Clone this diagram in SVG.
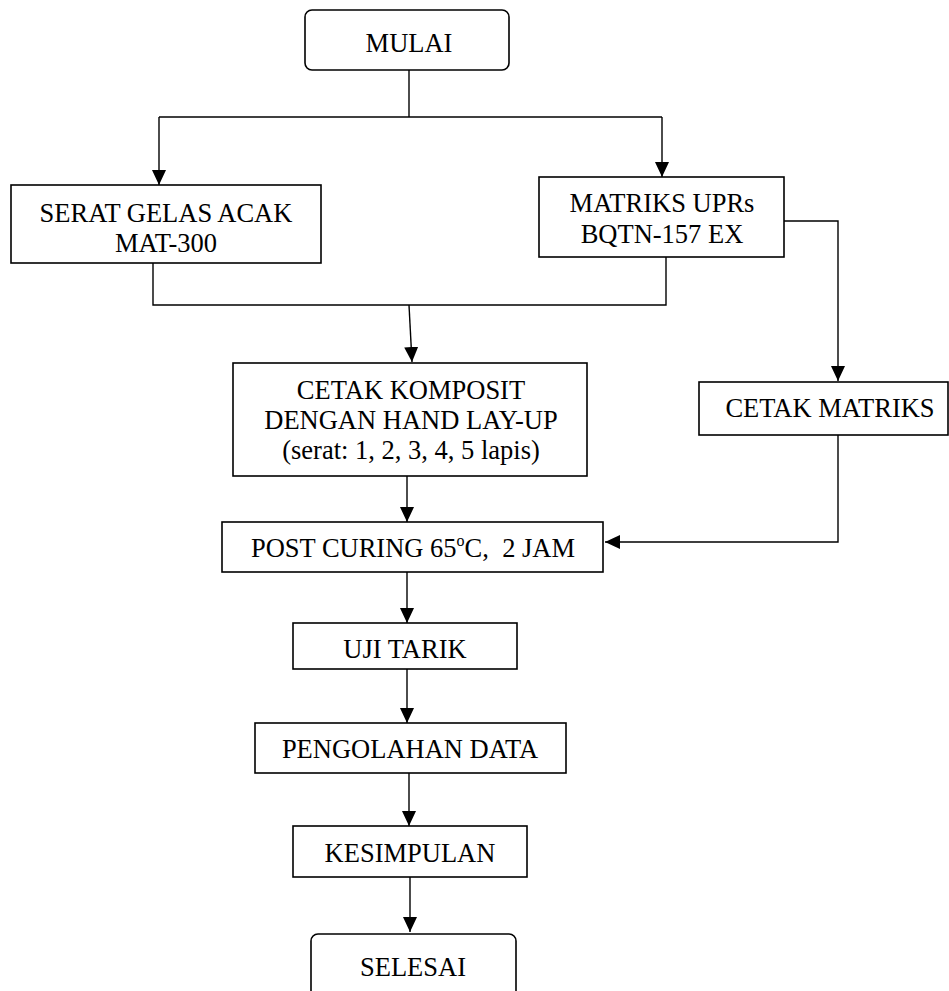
<svg xmlns="http://www.w3.org/2000/svg" width="949" height="991" viewBox="0 0 949 991">
<style>
  .box { fill: #fff; stroke: #000; stroke-width: 1.6; }
  .ln { fill: none; stroke: #000; stroke-width: 1.4; }
  text { font-family: "Liberation Serif", "Times New Roman", serif; font-size: 26.5px; fill: #000; text-anchor: middle; white-space: pre; }
</style>
<defs>
  <marker id="ah" markerWidth="15" markerHeight="14" refX="15" refY="7" orient="auto" markerUnits="userSpaceOnUse">
    <path d="M0,0 L15,7 L0,14 Z" fill="#000"/>
  </marker>
</defs>
<rect width="949" height="991" fill="#fff"/>
<g id="connectors">
  <path class="ln" d="M409,70 V117"/>
  <path class="ln" d="M159,117 H662"/>
  <path class="ln" d="M159,117 V185" marker-end="url(#ah)"/>
  <path class="ln" d="M662,117 V177" marker-end="url(#ah)"/>
  <path class="ln" d="M153,263 V305 H666 V257"/>
  <path class="ln" d="M409,305 L412,362" marker-end="url(#ah)"/>
  <path class="ln" d="M784,221 H838 V381" marker-end="url(#ah)"/>
  <path class="ln" d="M838,435 V542 H605" marker-end="url(#ah)"/>
  <path class="ln" d="M407,476 V522" marker-end="url(#ah)"/>
  <path class="ln" d="M407,572 V623" marker-end="url(#ah)"/>
  <path class="ln" d="M407,669 V723" marker-end="url(#ah)"/>
  <path class="ln" d="M409,773 V826" marker-end="url(#ah)"/>
  <path class="ln" d="M410,877 V932" marker-end="url(#ah)"/>
</g>
<g id="mulai">
  <rect class="box" x="305" y="10" width="204" height="60" rx="7"/>
  <text x="409" y="52">MULAI</text>
</g>
<g id="serat">
  <rect class="box" x="11" y="185" width="310" height="78"/>
  <text x="166" y="222">SERAT GELAS ACAK</text>
  <text x="166" y="252">MAT-300</text>
</g>
<g id="matriks">
  <rect class="box" x="539" y="177" width="245" height="80"/>
  <text x="662" y="212">MATRIKS UPRs</text>
  <text x="662" y="243">BQTN-157 EX</text>
</g>
<g id="cetak-komposit">
  <rect class="box" x="233" y="363" width="354" height="113"/>
  <text x="411" y="399">CETAK KOMPOSIT</text>
  <text x="411" y="429">DENGAN HAND LAY-UP</text>
  <text x="411" y="459">(serat: 1, 2, 3, 4, 5 lapis)</text>
</g>
<g id="cetak-matriks">
  <rect class="box" x="699" y="382" width="249" height="53"/>
  <text x="830" y="417">CETAK MATRIKS</text>
</g>
<g id="post-curing">
  <rect class="box" x="222" y="522" width="381" height="50"/>
  <text x="413" y="557">POST CURING 65<tspan font-size="16" dy="-11">o</tspan><tspan dy="11">C,  2 JAM</tspan></text>
</g>
<g id="uji-tarik">
  <rect class="box" x="293" y="623" width="224" height="46"/>
  <text x="405" y="658">UJI TARIK</text>
</g>
<g id="pengolahan">
  <rect class="box" x="255" y="723" width="311" height="50"/>
  <text x="410" y="758">PENGOLAHAN DATA</text>
</g>
<g id="kesimpulan">
  <rect class="box" x="293" y="826" width="234" height="51"/>
  <text x="410" y="862">KESIMPULAN</text>
</g>
<g id="selesai">
  <rect class="box" x="311" y="934" width="205" height="80" rx="7"/>
  <text x="413" y="976">SELESAI</text>
</g>
</svg>
